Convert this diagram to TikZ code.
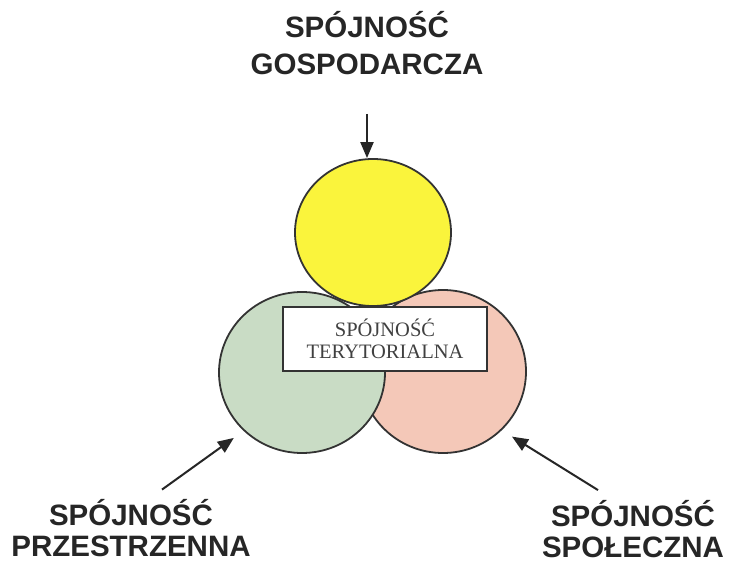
\documentclass[tikz,border=0pt]{standalone}
\usepackage{fontspec}
\setmainfont{Liberation Serif}
\setsansfont{Liberation Sans}
\usetikzlibrary{arrows.meta,shapes.geometric}
\definecolor{zolty}{HTML}{FAF43C}
\definecolor{zielony}{HTML}{C9DCC5}
\definecolor{rozowy}{HTML}{F4C8B8}
\definecolor{obrys}{HTML}{333333}

\begin{document}
\begin{tikzpicture}[x=1pt, y=-1pt,
  kolo/.style={ellipse, draw=obrys, line width=1.8pt, inner sep=0pt},
  etykieta/.style={font=\sffamily\bfseries\fontsize{29.5}{31}\selectfont, align=center, inner sep=0pt, text=black!85},
  strzalka/.style={line width=2pt, black!85, -{Triangle[length=16pt,width=13pt]}}]
\fill[white] (0,0) rectangle (729,567);
\useasboundingbox (0,0) rectangle (729,567);
% three overlapping circles
\node[kolo, fill=rozowy, minimum width=166pt, minimum height=163pt] (rozowe) at (443,371.5) {};
\node[kolo, fill=zielony, minimum width=166pt, minimum height=161pt] (zielone) at (302,372.5) {};
\node[kolo, fill=zolty, minimum width=156pt, minimum height=147pt] (zolte) at (373,232.5) {};
\node[draw=obrys, line width=1.8pt, fill=white, minimum width=204pt, minimum height=64pt,
  align=center, text=black!75, font=\fontsize{20.5}{22}\selectfont] (teryt) at (385,339) {SPÓJNOŚĆ\\TERYTORIALNA};
% labels
\node[etykieta, font=\sffamily\bfseries\fontsize{29.5}{37}\selectfont] (gosp) at (367,43) {SPÓJNOŚĆ\\GOSPODARCZA};
\node[etykieta] (przestrz) at (131,528.5) {SPÓJNOŚĆ\\PRZESTRZENNA};
\node[etykieta] (spol) at (633,529) {SPÓJNOŚĆ\\SPOŁECZNA};
% arrows
\draw[strzalka] ([yshift=-39pt]gosp.south) -- (gosp.south |- zolte.north);
\draw[strzalka, shorten >=12pt] ([shift={(31pt,10pt)}]przestrz.north) -- (zielone.225);
\draw[strzalka, shorten >=12pt] ([shift={(-35pt,10pt)}]spol.north) -- (rozowe.315);
\end{tikzpicture}
\end{document}
